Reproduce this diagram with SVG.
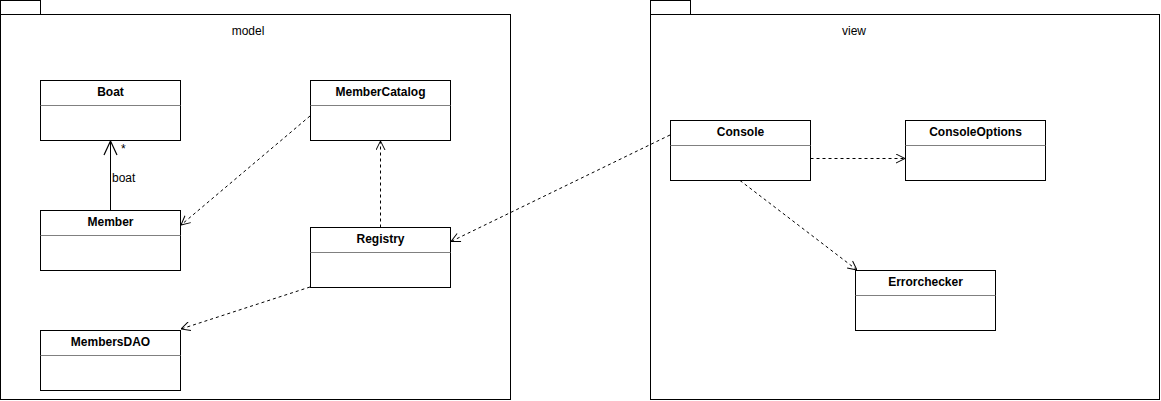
<svg xmlns="http://www.w3.org/2000/svg" width="1161" height="401" viewBox="0 0 1161 401">
<style>
.pkg{fill:#fff;stroke:#000;stroke-width:1}
.cls{fill:#fff;stroke:#000;stroke-width:1}
.sep{stroke:#808080;stroke-width:1}
.name{font-family:"Liberation Sans",Arial,sans-serif;font-size:12px;font-weight:bold;text-anchor:middle;fill:#000}
.lbl{font-family:"Liberation Sans",Arial,sans-serif;font-size:12px;fill:#000}
.dep{fill:none;stroke:#000;stroke-width:1;stroke-dasharray:3 3;marker-end:url(#open)}
.assoc{fill:none;stroke:#000;stroke-width:1;marker-end:url(#openBig)}
</style>
<defs>
<marker id="open" viewBox="0 0 10 10" refX="10" refY="5" markerWidth="10" markerHeight="10" markerUnits="userSpaceOnUse" orient="auto">
<path d="M1,0.5 L10,5 L1,9.5" fill="none" stroke="#000" stroke-width="1" stroke-dasharray="none"/>
</marker>
<marker id="openBig" viewBox="0 0 16 16" refX="15" refY="8" markerWidth="16" markerHeight="16" markerUnits="userSpaceOnUse" orient="auto">
<path d="M1,1.5 L15,8 L1,14.5" fill="none" stroke="#000" stroke-width="1.2"/>
</marker>
</defs>
<rect width="1161" height="401" fill="#fff"/>
<g id="pkg-model">
<rect class="pkg" x="0.5" y="0.5" width="40" height="14"/>
<rect class="pkg" x="0.5" y="14.5" width="510" height="385"/>
<text class="lbl" x="248" y="35" text-anchor="middle">model</text>
</g>
<g id="pkg-view">
<rect class="pkg" x="650.5" y="0.5" width="40" height="14"/>
<rect class="pkg" x="650.5" y="14.5" width="509" height="385"/>
<text class="lbl" x="854" y="35" text-anchor="middle">view</text>
</g>
<g id="Boat">
<rect class="cls" x="40.5" y="80.5" width="140" height="60"/>
<line class="sep" x1="40.5" y1="105.5" x2="180.5" y2="105.5"/>
<text class="name" x="110.5" y="96">Boat</text>
</g>
<g id="Member">
<rect class="cls" x="40.5" y="210.5" width="140" height="60"/>
<line class="sep" x1="40.5" y1="235.5" x2="180.5" y2="235.5"/>
<text class="name" x="110.5" y="226">Member</text>
</g>
<g id="MemberCatalog">
<rect class="cls" x="310.5" y="80.5" width="140" height="60"/>
<line class="sep" x1="310.5" y1="105.5" x2="450.5" y2="105.5"/>
<text class="name" x="380.5" y="96">MemberCatalog</text>
</g>
<g id="Registry">
<rect class="cls" x="310.5" y="227.5" width="140" height="60"/>
<line class="sep" x1="310.5" y1="252.5" x2="450.5" y2="252.5"/>
<text class="name" x="380.5" y="243">Registry</text>
</g>
<g id="MembersDAO">
<rect class="cls" x="40.5" y="330.5" width="140" height="60"/>
<line class="sep" x1="40.5" y1="355.5" x2="180.5" y2="355.5"/>
<text class="name" x="110.5" y="346">MembersDAO</text>
</g>
<g id="Console">
<rect class="cls" x="670.5" y="120.5" width="140" height="60"/>
<line class="sep" x1="670.5" y1="145.5" x2="810.5" y2="145.5"/>
<text class="name" x="740.5" y="136">Console</text>
</g>
<g id="ConsoleOptions">
<rect class="cls" x="905.5" y="120.5" width="140" height="60"/>
<line class="sep" x1="905.5" y1="145.5" x2="1045.5" y2="145.5"/>
<text class="name" x="975.5" y="136">ConsoleOptions</text>
</g>
<g id="Errorchecker">
<rect class="cls" x="855.5" y="270.5" width="140" height="60"/>
<line class="sep" x1="855.5" y1="295.5" x2="995.5" y2="295.5"/>
<text class="name" x="925.5" y="286">Errorchecker</text>
</g>
<g id="connectors">
<path class="assoc" d="M110.5,210.5 L110.5,141"/>
<text class="lbl" x="112" y="182">boat</text>
<text class="lbl" x="121" y="153" font-size="10">*</text>
<path class="dep" d="M310,116 L181,225"/>
<path class="dep" d="M380.5,227.5 L380.5,141"/>
<path class="dep" d="M310,287 L181,329"/>
<path class="dep" d="M670,135 L451,241.5"/>
<path class="dep" d="M810.5,158.5 L905,158.5"/>
<path class="dep" d="M740,180.5 L857,270"/>
</g>
</svg>
